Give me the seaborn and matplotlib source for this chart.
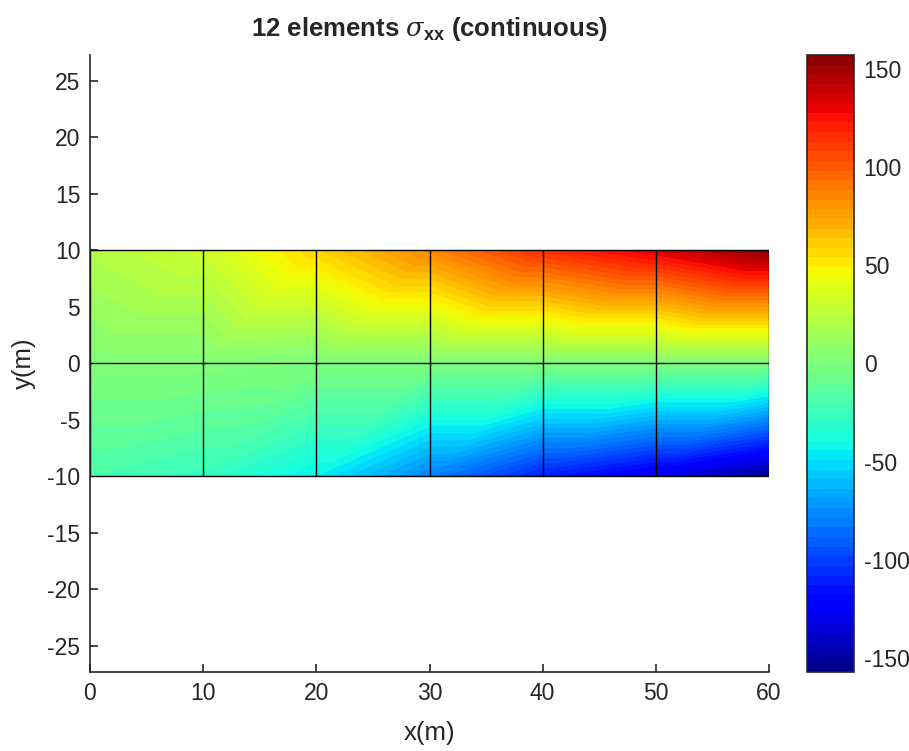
import numpy as np
import matplotlib
matplotlib.use("Agg")
import matplotlib.pyplot as plt
import matplotlib.tri as mtri
from matplotlib.colors import ListedColormap
import seaborn as sns

# mesh: 6 x 2 elements, nodal (smoothed) sigma_xx values
x_nodes = [0, 10, 20, 30, 40, 50, 60]
y_nodes = [-10, 0, 10]
sxx_bot = [-20, -27, -45, -80, -112, -130, -155]
sxx_mid = [2, 2, 0, 0, 0, 0, 0]
sxx_top = [21, 31, 58, 85, 115, 133, 156]
clim = 157.3
n_colors = 64

sns.set_theme(style="ticks")
plt.rcParams["font.family"] = ["Liberation Sans", "DejaVu Sans"]
plt.rcParams["axes.unicode_minus"] = False
plt.rcParams["mathtext.fontset"] = "custom"
plt.rcParams["mathtext.rm"] = "Liberation Sans"
plt.rcParams["mathtext.bf"] = "Liberation Sans:bold"
plt.rcParams["mathtext.it"] = "DejaVu Serif:italic"

nx, ny = len(x_nodes), len(y_nodes)
X, Y = np.meshgrid(x_nodes, y_nodes)
Z = np.array([sxx_bot, sxx_mid, sxx_top], dtype=float)

# quads split along the lower-left -> upper-right diagonal
tris = []
for j in range(ny - 1):
    for i in range(nx - 1):
        n00 = j * nx + i
        n10 = n00 + 1
        n01 = n00 + nx
        n11 = n01 + 1
        tris.append([n00, n10, n11])
        tris.append([n00, n11, n01])
tri = mtri.Triangulation(X.ravel(), Y.ravel(), tris)

jet = ListedColormap(sns.mpl_palette("jet", n_colors))
levels = np.linspace(-clim, clim, n_colors + 1)

fig = plt.figure(figsize=(9.09, 7.51), dpi=100)
ax = fig.add_axes([0.099, 0.1052, 0.747, 0.8216])
cax = fig.add_axes([0.8875, 0.1052, 0.052, 0.8216])

cs = ax.tricontourf(tri, Z.ravel(), levels=levels, cmap=jet, antialiased=False)

# element edges
for xv in x_nodes:
    ax.plot([xv, xv], [y_nodes[0], y_nodes[-1]], color="black", lw=1)
for yv in y_nodes:
    ax.plot([x_nodes[0], x_nodes[-1]], [yv, yv], color="black", lw=1)

ax.set_xlim(0, 60)
ax.set_ylim(-27.3, 27.3)
ax.set_aspect("equal", adjustable="datalim")
ax.set_xticks(np.arange(0, 61, 10))
ax.set_yticks(np.arange(-25, 26, 5))
sns.despine(ax=ax)
for s in ["left", "bottom"]:
    ax.spines[s].set_color("#262626")
    ax.spines[s].set_linewidth(1.2)
ax.tick_params(direction="in", length=6, width=1.2, colors="#262626",
               labelsize=16.5, labelcolor="#262626", pad=7)
ax.set_xlabel("x(m)", fontsize=18.5, color="#262626", labelpad=12)
ax.set_ylabel("y(m)", fontsize=18.5, color="#262626", labelpad=8)
ax.set_title(r"12 elements $\sigma_{\mathbf{xx}}$ (continuous)",
             fontsize=18.5, fontweight="bold", pad=14)

cb = fig.colorbar(cs, cax=cax)
cb.set_ticks([-150, -100, -50, 0, 50, 100, 150])
cb.outline.set_edgecolor("#262626")
cb.outline.set_linewidth(1.2)
cax.tick_params(direction="in", length=5, width=1.2, colors="#262626",
                labelsize=16.5, labelcolor="#262626", pad=7)

fig.savefig("out.png", dpi=100)
